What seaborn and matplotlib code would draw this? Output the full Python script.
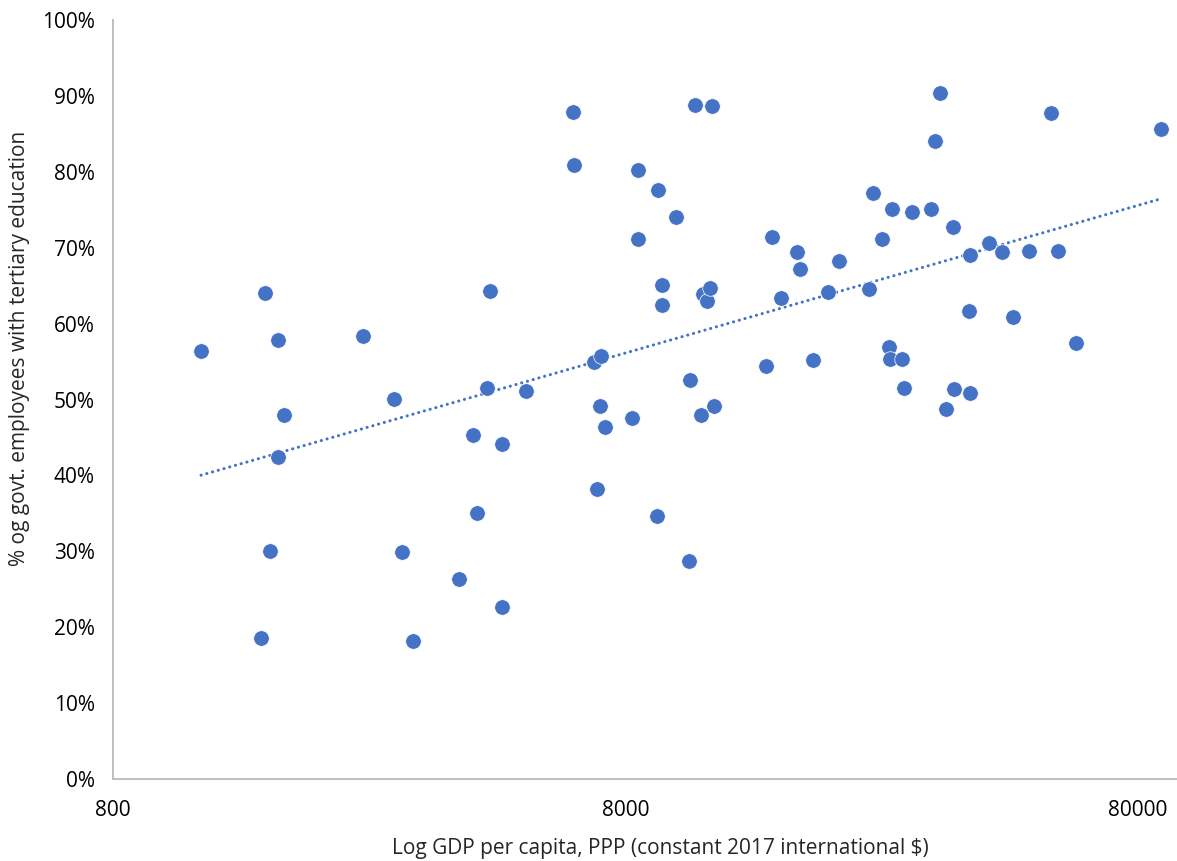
import matplotlib
matplotlib.use("Agg")
import matplotlib.pyplot as plt
import matplotlib.ticker as mticker
import seaborn as sns
import pandas as pd

# GDP per capita, PPP (constant 2017 international $)
gdp_per_capita = [
    1188, 1584, 1680, 1725, 1680, 1620, 1556, 2460, 2828, 2931,
    3080, 3786, 4033, 4106, 4353, 4295, 4594, 4594, 5117,
    6321, 6348, 6945, 7167, 7040, 7134, 7297, 8236, 8461, 8461,
    9256, 9216, 9424, 9424, 10037, 10690, 10641, 10932, 11229, 11331,
    11536, 11695, 11800, 11906, 15040, 15452, 16089, 17286, 17522, 18577,
    19874, 20880, 23884, 24317, 25322, 26128, 26248, 26485, 27700, 27950,
    28973, 31565, 32137, 32871,
    33768, 34842, 35003, 37610, 37610, 37437, 40961, 43414, 45618, 49010,
    54110, 55845, 60550, 88720,
]

# % of government employees with tertiary education
tertiary_share = [
    56.4, 64.0, 57.8, 48.0, 42.4, 30.0, 18.6, 58.4, 50.1, 29.9,
    18.2, 26.4, 45.3, 35.0, 64.3, 51.5, 44.1, 22.7, 51.1,
    87.9, 80.9, 54.9, 55.7, 38.2, 49.1, 46.4, 47.6, 80.2, 71.1,
    77.6, 34.7, 65.1, 62.5, 74.0, 52.6, 28.7, 88.8, 48.0, 63.9,
    63.0, 64.7, 88.7, 49.1, 54.4, 71.4, 63.4, 69.4, 67.2, 55.2,
    64.2, 68.2, 64.6, 77.2, 71.1, 56.9, 55.3, 75.1, 55.3, 51.5,
    74.7, 75.1, 84.1, 90.4,
    48.7, 72.7, 51.4, 50.9, 69.0, 61.7, 70.6, 69.4, 60.9, 69.6,
    87.7, 69.6, 57.4, 85.6,
]

x_ticks = [800, 8000, 80000]
y_ticks = list(range(0, 101, 10))

df = pd.DataFrame({"gdp": gdp_per_capita, "share": tertiary_share})

sns.set_style("white")
plt.rcParams["font.family"] = ["Open Sans", "DejaVu Sans"]

blue = "#4472C4"
grey = "#BFBFBF"

fig = plt.figure(figsize=(11.77, 8.61), dpi=100)
ax = fig.add_axes([113 / 1177, 1 - 779 / 861, 1 - 113 / 1177, (779 - 20) / 861])

sns.scatterplot(data=df, x="gdp", y="share", ax=ax, color=blue, s=125,
                edgecolor="white", linewidth=0.5, zorder=3)
# logarithmic trendline (straight on the log axis)
sns.regplot(data=df, x="gdp", y="share", ax=ax, logx=True, scatter=False, ci=None,
            truncate=True, line_kws={"color": blue, "lw": 2.2, "ls": (0, (0.05, 1.9)),
                                     "dash_capstyle": "round", "zorder": 2})

ax.set_xscale("log")
ax.set_xlim(800, 95300)
ax.set_ylim(0, 100)
ax.xaxis.set_major_locator(mticker.FixedLocator(x_ticks))
ax.xaxis.set_minor_locator(mticker.NullLocator())
ax.xaxis.set_major_formatter(mticker.FixedFormatter([str(t) for t in x_ticks]))
ax.set_yticks(y_ticks)
ax.set_yticklabels([f"{t}%" for t in y_ticks])

ax.tick_params(axis="both", length=0, labelsize=15, colors="#000000")
ax.tick_params(axis="x", pad=15)
ax.tick_params(axis="y", pad=13)

for side in ["top", "right"]:
    ax.spines[side].set_visible(False)
for side in ["left", "bottom"]:
    ax.spines[side].set_color(grey)
    ax.spines[side].set_linewidth(1.4)

ax.set_xlabel("Log GDP per capita, PPP (constant 2017 international $)", fontsize=15)
ax.set_ylabel("% og govt. employees with tertiary education", fontsize=15)
ax.xaxis.set_label_coords(0.514, -0.078)
ax.yaxis.set_label_coords(-0.078, 0.567)

fig.savefig("out.png", dpi=100)
